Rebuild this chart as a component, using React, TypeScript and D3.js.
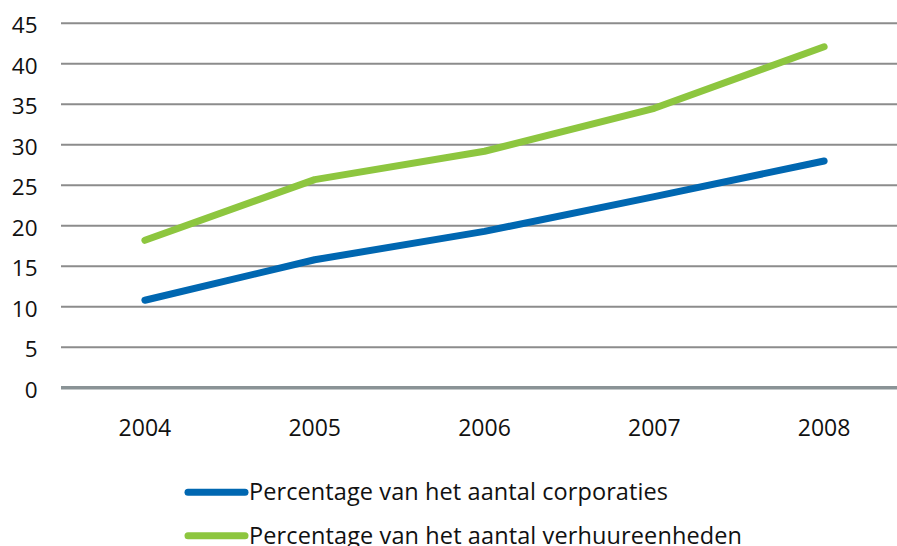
import React from "react";
import * as d3 from "d3";

const years = ["2004", "2005", "2006", "2007", "2008"];
const corporaties = [10.8, 15.8, 19.3, 23.6, 28.0];
const verhuureenheden = [18.2, 25.7, 29.2, 34.5, 42.1];
const yTicks = [0, 5, 10, 15, 20, 25, 30, 35, 40, 45];
const seriesNames = [
  "Percentage van het aantal corporaties",
  "Percentage van het aantal verhuureenheden",
];
const seriesColors = ["#0067b1", "#8dc63f"];
const legendTextWidths = [419, 493];

const W = 897;
const H = 546;
const FONT = "'Open Sans', sans-serif";

export default function App() {
  const x = d3.scaleBand<string>().domain(years).range([60, 909]).padding(0);
  const y = d3.scaleLinear().domain([0, 45]).range([387.7, 23.3]);
  const cx = (d: string) => (x(d) as number) + x.bandwidth() / 2;
  const line = d3
    .line<number>()
    .x((_, i) => cx(years[i]))
    .y((v) => y(v));
  const series = [corporaties, verhuureenheden];

  return (
    <svg
      width={W}
      height={H}
      style={{ position: "absolute", left: 0, top: 0, background: "#fff" }}
    >
      {yTicks.map((t) => (
        <g key={t}>
          <line
            x1={61}
            x2={W}
            y1={y(t)}
            y2={y(t)}
            stroke={t === 0 ? "#8a9396" : "#8c8c8c"}
            strokeWidth={t === 0 ? 3.5 : 2}
          />
          <text
            x={37.5}
            y={y(t) + 10}
            textAnchor="end"
            fontFamily={FONT}
            fontSize={22.5}
            fill="#111"
          >
            {t}
          </text>
        </g>
      ))}
      {years.map((yr) => (
        <text
          key={yr}
          x={cx(yr)}
          y={436}
          textAnchor="middle"
          fontFamily={FONT}
          fontSize={23}
          fill="#111"
        >
          {yr}
        </text>
      ))}
      {series.map((s, i) => (
        <path
          key={i}
          d={line(s) as string}
          fill="none"
          stroke={seriesColors[i]}
          strokeWidth={7}
          strokeLinecap="round"
          strokeLinejoin="round"
        />
      ))}
      {seriesNames.map((name, i) => (
        <g key={name}>
          <line
            x1={188}
            x2={245}
            y1={492.3 + i * 43.5}
            y2={492.3 + i * 43.5}
            stroke={seriesColors[i]}
            strokeWidth={7}
            strokeLinecap="round"
          />
          <text
            x={249}
            y={500 + i * 43.5}
            fontFamily={FONT}
            fontSize={23.5}
            textLength={legendTextWidths[i]}
            lengthAdjust="spacing"
            fill="#111"
          >
            {name}
          </text>
        </g>
      ))}
    </svg>
  );
}
